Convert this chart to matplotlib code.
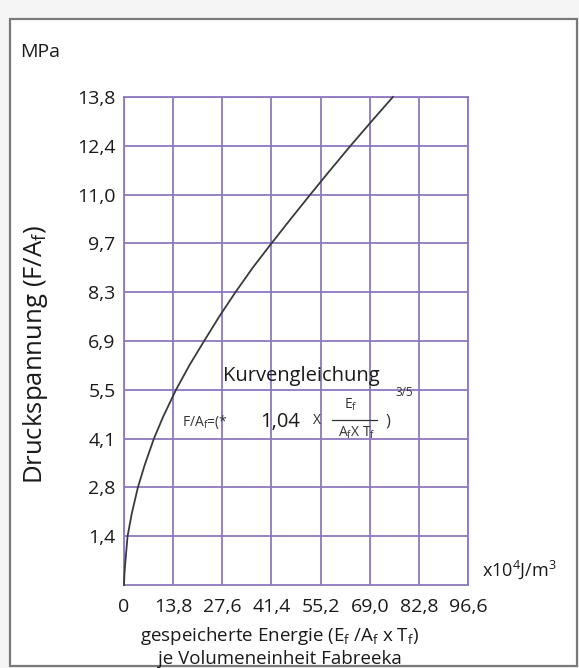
import numpy as np
import matplotlib
matplotlib.use('Agg')
import matplotlib.pyplot as plt
from matplotlib.patches import Rectangle
from matplotlib.lines import Line2D

plt.rcParams['font.family'] = ['Open Sans', 'DejaVu Sans']
plt.rcParams['mathtext.fontset'] = 'custom'
plt.rcParams['mathtext.rm'] = 'Open Sans'
plt.rcParams['mathtext.it'] = 'Open Sans'
plt.rcParams['mathtext.bf'] = 'Open Sans:bold'

# curve (x10^4 J/m^3, MPa)
energy = [0, 0.12, 0.35, 1.0, 2.2, 3.9, 5.8, 8.4, 11.0, 14.6, 18.4, 22.5, 26.8, 31.3, 36.2, 41.4,
          46.8, 52.3, 57.9, 63.6, 69.5, 75.5]
stress = [0, 0.3, 0.62, 1.38, 2.03, 2.76, 3.39, 4.14, 4.76, 5.52, 6.22, 6.9, 7.6, 8.28, 8.98, 9.66,
          10.35, 11.04, 11.73, 12.42, 13.11, 13.8]

x_labels = ['0', '13,8', '27,6', '41,4', '55,2', '69,0', '82,8', '96,6']
y_labels = ['1,4', '2,8', '4,1', '5,5', '6,9', '8,3', '9,7', '11,0', '12,4', '13,8']

grid_col = '#8c78bf'
W, H = 579, 668

fig = plt.figure(figsize=(W / 100, H / 100), dpi=100, facecolor='#f5f5f5')

def px(x, y):
    # pixel position (from top-left) -> figure fraction
    return x / W, 1 - y / H

# outer frame
fig.patches.append(Rectangle(px(10, 666), 567 / W, 647 / H, transform=fig.transFigure,
                             facecolor='white', edgecolor='#7a7a7a', lw=1.6, zorder=-5))

l, b = px(124, 585)
ax = fig.add_axes([l, b, 344 / W, 488 / H])
ax.set_zorder(2)
ax.set_facecolor('white')

x_pos = [float(s.replace(',', '.')) for s in x_labels]
y_pos = [1.38 * (i + 1) for i in range(len(y_labels))]

ax.plot(energy, stress, color='#3a3a3a', lw=1.3, clip_on=False, zorder=3)

ax.set_xlim(0, 96.6)
ax.set_ylim(0, 13.8)
ax.set_xticks(x_pos)
ax.set_xticklabels(x_labels)
ax.set_yticks(y_pos)
ax.set_yticklabels(y_labels)
ax.tick_params(length=0, labelsize=14, colors='#1a1a1a')
ax.tick_params(axis='x', pad=9)
ax.tick_params(axis='y', pad=6)
ax.grid(True, color=grid_col, lw=1.3)
for s in ax.spines.values():
    s.set_color(grid_col)
    s.set_linewidth(1.3)

# axis texts
fig.text(*px(20, 52), 'MPa', fontsize=14, ha='left', va='center', color='#1a1a1a')
fig.text(*px(36, 354), r'Druckspannung (F/A$_f$)', fontsize=18.5, rotation=90,
         ha='center', va='center', color='#1a1a1a')
fig.text(*px(482, 570), r'x10$^4$J/m$^3$', fontsize=13, ha='left', va='center', color='#1a1a1a')
fig.text(*px(280, 636), r'gespeicherte Energie (E$_f$ /A$_f$ x T$_f$)', fontsize=13.5,
         ha='center', va='center', color='#1a1a1a')
fig.text(*px(280, 659), 'je Volumeneinheit Fabreeka', fontsize=13.5,
         ha='center', va='center', color='#1a1a1a')

# curve equation
fig.text(*px(301, 376), 'Kurvengleichung', fontsize=14.5, ha='center', va='center', color='#1a1a1a', zorder=5)
fig.text(*px(182, 422), r'F/A$_f$=(*', fontsize=10, ha='left', va='center', color='#333333', zorder=5)
fig.text(*px(260, 422), '1,04', fontsize=14.5, ha='left', va='center', color='#1a1a1a', zorder=5)
fig.text(*px(317, 420), 'X', fontsize=10, ha='center', va='center', color='#333333', zorder=5)
fig.text(*px(351, 405), r'E$_f$', fontsize=10, ha='center', va='center', color='#333333', zorder=5)
fig.add_artist(Line2D([332 / W, 377 / W], [1 - 420 / H, 1 - 420 / H], color='#333333', lw=0.9, zorder=5))
fig.text(*px(357, 433), r'A$_f$X T$_f$', fontsize=10, ha='center', va='center', color='#333333', zorder=5)
fig.text(*px(388, 422), ')', fontsize=12, ha='center', va='center', color='#333333', zorder=5)
fig.text(*px(395, 393), '3/5', fontsize=8.5, ha='left', va='center', color='#333333', zorder=5)

fig.savefig('out.png', dpi=100, facecolor=fig.get_facecolor())
